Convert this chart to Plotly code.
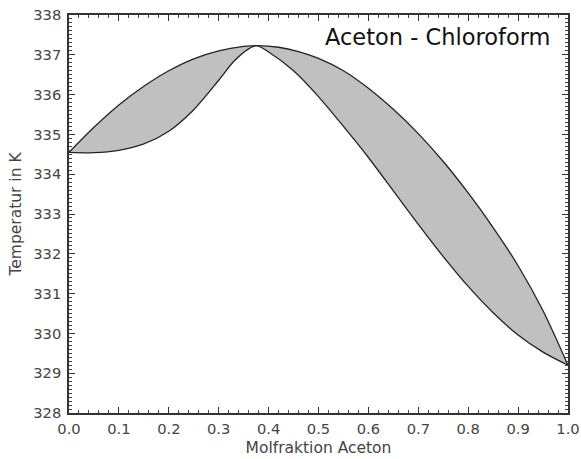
import plotly.graph_objects as go

# Dew (vapour) curve: upper boundary
dew_x = [0.0, 0.05, 0.10, 0.15, 0.20, 0.25, 0.30, 0.35, 0.376, 0.42, 0.46, 0.50,
         0.55, 0.60, 0.65, 0.70, 0.75, 0.80, 0.85, 0.90, 0.95, 1.0]
dew_T = [334.55, 335.18, 335.74, 336.21, 336.60, 336.90, 337.10, 337.21, 337.23, 337.19, 337.08, 336.91,
         336.60, 336.16, 335.63, 335.02, 334.32, 333.53, 332.66, 331.70, 330.57, 329.20]

# Bubble (liquid) curve: lower boundary
bub_x = [0.0, 0.05, 0.10, 0.15, 0.20, 0.25, 0.30, 0.33, 0.36, 0.376, 0.40, 0.45, 0.50,
         0.55, 0.60, 0.65, 0.70, 0.75, 0.80, 0.85, 0.90, 0.95, 1.0]
bub_T = [334.55, 334.54, 334.60, 334.76, 335.08, 335.62, 336.36, 336.83, 337.15, 337.23, 337.07, 336.60, 335.95,
         335.20, 334.42, 333.58, 332.74, 331.93, 331.18, 330.52, 329.96, 329.53, 329.20]

x_ticks = [0.0, 0.1, 0.2, 0.3, 0.4, 0.5, 0.6, 0.7, 0.8, 0.9, 1.0]
y_ticks = [328, 329, 330, 331, 332, 333, 334, 335, 336, 337, 338]

title_text = "Aceton - Chloroform"
x_label = "Molfraktion Aceton"
y_label = "Temperatur in K"

FONT = "DejaVu Sans"

fig = go.Figure()
fig.add_trace(go.Scatter(x=bub_x, y=bub_T, mode="lines",
                         line=dict(color="#222222", width=1.3, shape="spline", smoothing=0.8),
                         showlegend=False, hoverinfo="skip"))
fig.add_trace(go.Scatter(x=dew_x, y=dew_T, mode="lines", fill="tonexty",
                         fillcolor="#c0c0c0",
                         line=dict(color="#222222", width=1.3, shape="spline", smoothing=0.8),
                         showlegend=False, hoverinfo="skip"))

axis_common = dict(
    showline=True, linecolor="#333333", linewidth=1.5, mirror="ticks",
    ticks="inside", ticklen=6, tickwidth=1.3, tickcolor="#333333",
    showgrid=False, zeroline=False, automargin=False,
    tickfont=dict(family=FONT, size=14.7, color="#444444"),
)

fig.update_xaxes(range=[x_ticks[0], x_ticks[-1]], tickmode="linear",
                 tick0=x_ticks[0], dtick=x_ticks[1] - x_ticks[0], tickformat=".1f",
                 minor=dict(ticks="inside", ticklen=3.5, tick0=0, dtick=0.02, tickcolor="#444444", tickwidth=1.1, showgrid=False),
                 title=dict(text=x_label, font=dict(family=FONT, size=15.5, color="#444444"), standoff=6),
                 ticklabelstandoff=2,
                 **axis_common)
fig.update_yaxes(range=[y_ticks[0], y_ticks[-1]], tickmode="linear",
                 tick0=y_ticks[0], dtick=y_ticks[1] - y_ticks[0],
                 minor=dict(ticks="inside", ticklen=3.5, tick0=328, dtick=0.1, tickcolor="#444444", tickwidth=1.1, showgrid=False),
                 title=dict(text=y_label, font=dict(family=FONT, size=15.5, color="#444444"), standoff=8),
                 ticklabelstandoff=3,
                 **axis_common)

fig.add_annotation(text=title_text, xref="paper", yref="paper",
                   x=0.968, y=0.945, xanchor="right", yanchor="middle",
                   showarrow=False, font=dict(family=FONT, size=22.5, color="#111111"))

fig.update_layout(width=581, height=459,
                  margin=dict(l=69, r=13, t=15, b=46),
                  plot_bgcolor="white", paper_bgcolor="white")

fig.write_html("out.html")
